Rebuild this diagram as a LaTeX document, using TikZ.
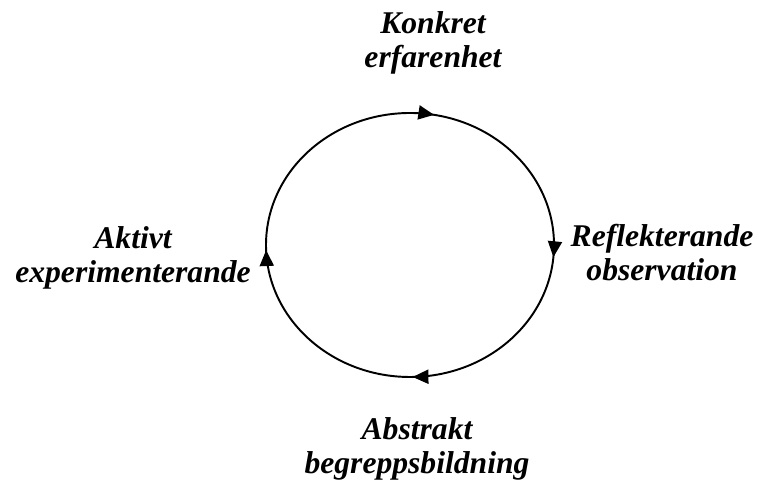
\documentclass[tikz,border=0pt]{standalone}
\usepackage{fontspec}
\setmainfont{Liberation Serif}
\usetikzlibrary{arrows.meta,decorations.markings}
\tikzset{
  stage/.style={align=center,inner sep=0pt,font=\fontsize{18}{19.3}\selectfont\bfseries\itshape},
  tip/.style={postaction={decorate},decoration={markings,
    mark=at position 0.028 with {\arrow{Triangle[length=9pt,width=8pt]}},
    mark=at position 0.264 with {\arrow{Triangle[length=9pt,width=8pt]}},
    mark=at position 0.497 with {\arrow{Triangle[length=9pt,width=8pt]}},
    mark=at position 0.744 with {\arrow{Triangle[length=9pt,width=8pt]}}}}
}
\begin{document}
\begin{tikzpicture}
      [x=0.02cm,y=0.02cm]
      \useasboundingbox (0,0) rectangle (757,486);
      \coordinate (C) at (410,241);
      \node[stage] (konkret) at (433,443) {Konkret\\erfarenhet};
      \node[stage] (reflekt) at (662,233) {Reflekterande\\observation};
      \node[stage] (abstrakt) at (417,37) {Abstrakt\\begreppsbildning};
      \node[stage] (aktivt) at (133,228) {Aktivt\\experimenterande};

      % the cycle, clockwise from the top
      \draw[line width=1.1pt,tip] (410,373) arc[start angle=90,end angle=-270,x radius=144,y radius=132];
    \end{tikzpicture}
\end{document}
